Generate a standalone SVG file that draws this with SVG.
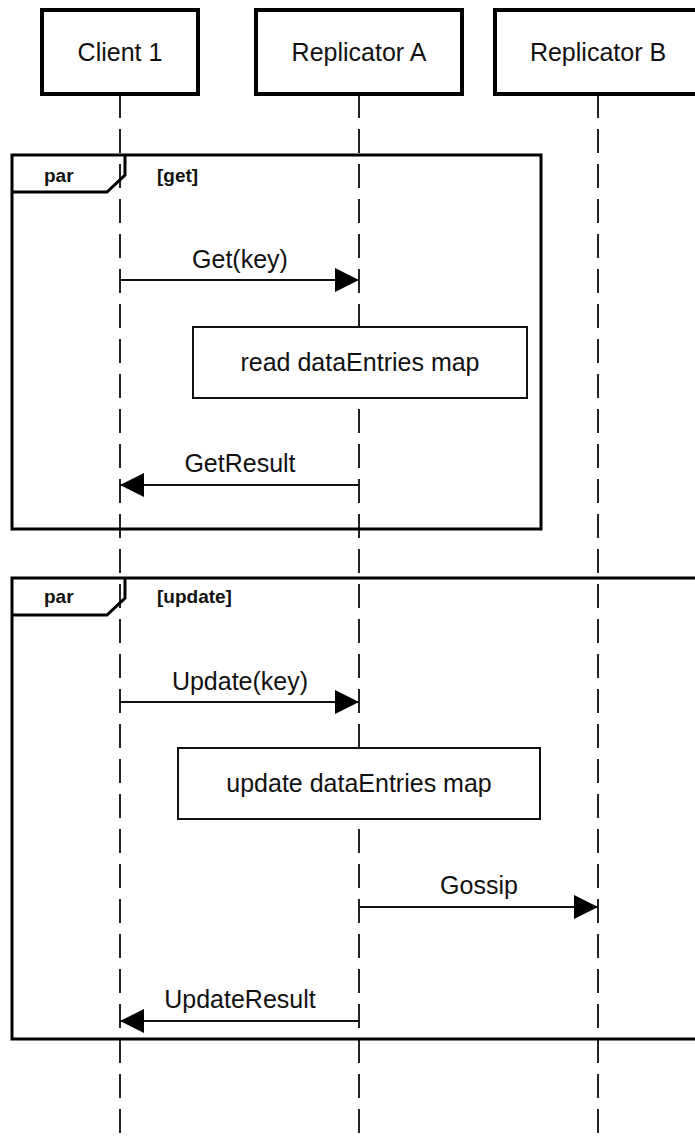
<svg xmlns="http://www.w3.org/2000/svg" width="695" height="1142" viewBox="0 0 695 1142">
<style>
.hdr{fill:#fff;stroke:#000;stroke-width:4}
.life{stroke:#222;stroke-width:2;stroke-dasharray:24 11;fill:none}
.frame{fill:none;stroke:#000;stroke-width:3}
.note{fill:#fff;stroke:#111;stroke-width:2}
.msg{stroke:#111;stroke-width:2;fill:none}
.t{font-family:"Liberation Sans",Arial,sans-serif;font-size:25px;fill:#111;text-anchor:middle}
.b{font-family:"Liberation Sans",Arial,sans-serif;font-size:19px;font-weight:bold;fill:#111}
</style>
<defs>
<marker id="ah" viewBox="0 0 24 24" refX="24" refY="12" markerWidth="24" markerHeight="24" markerUnits="userSpaceOnUse" orient="auto">
<path d="M0,0 L24,12 L0,24 Z" fill="#000"/>
</marker>
</defs>
<rect width="695" height="1142" fill="#fff"/>
<g id="lifelines">
<line class="life" x1="120" y1="94" x2="120" y2="1142"/>
<line class="life" x1="359" y1="94" x2="359" y2="1142"/>
<line class="life" x1="598" y1="94" x2="598" y2="1142"/>
</g>
<g id="client1">
<rect class="hdr" x="42" y="10" width="156" height="84"/>
<text class="t" x="120" y="61">Client 1</text>
</g>
<g id="replicatorA">
<rect class="hdr" x="256" y="10" width="206" height="84"/>
<text class="t" x="359" y="61">Replicator A</text>
</g>
<g id="replicatorB">
<rect class="hdr" x="495" y="10" width="206" height="84"/>
<text class="t" x="598" y="61">Replicator B</text>
</g>
<g id="par-get">
<rect class="frame" x="12" y="155" width="529" height="374"/>
<path class="frame" d="M12,192 H107 L125,175 V155"/>
<text class="b" x="44" y="182">par</text>
<text class="b" x="157" y="182">[get]</text>
</g>
<g id="par-update">
<path class="frame" d="M700,578 H12 V1039 H700"/>
<path class="frame" d="M12,615 H107 L125,598 V578"/>
<text class="b" x="44" y="603">par</text>
<text class="b" x="157" y="603">[update]</text>
</g>
<g id="note-read">
<rect class="note" x="193" y="327" width="334" height="71"/>
<text class="t" x="360" y="371">read dataEntries map</text>
</g>
<g id="note-update">
<rect class="note" x="178" y="748" width="362" height="71"/>
<text class="t" x="359" y="792">update dataEntries map</text>
</g>
<g id="connectors">
<line class="msg" x1="120" y1="280" x2="359" y2="280" marker-end="url(#ah)"/>
<text class="t" x="240" y="268">Get(key)</text>
<line class="msg" x1="359" y1="485" x2="120" y2="485" marker-end="url(#ah)"/>
<text class="t" x="240" y="472">GetResult</text>
<line class="msg" x1="120" y1="702" x2="359" y2="702" marker-end="url(#ah)"/>
<text class="t" x="240" y="690">Update(key)</text>
<line class="msg" x1="359" y1="907" x2="598" y2="907" marker-end="url(#ah)"/>
<text class="t" x="479" y="894">Gossip</text>
<line class="msg" x1="359" y1="1021" x2="120" y2="1021" marker-end="url(#ah)"/>
<text class="t" x="240" y="1008">UpdateResult</text>
</g>
</svg>
